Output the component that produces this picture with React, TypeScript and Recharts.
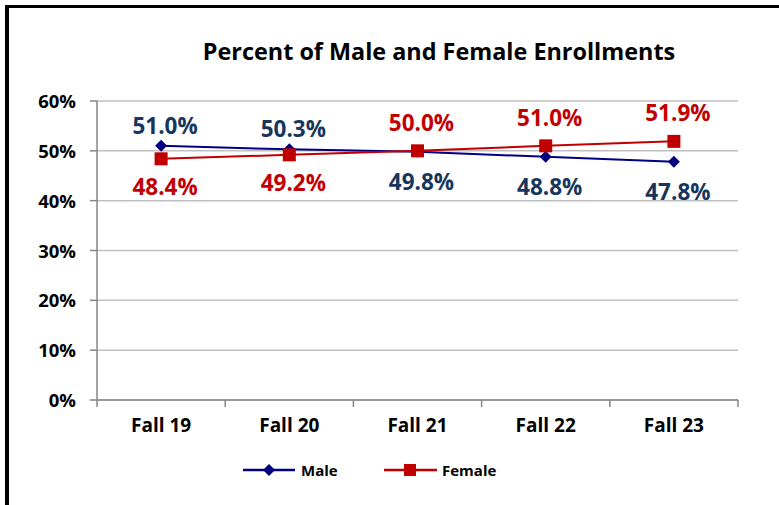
import React from "react";
import { LineChart, Line, XAxis, YAxis, CartesianGrid, LabelList, Customized } from "recharts";

const categories = ["Fall 19", "Fall 20", "Fall 21", "Fall 22", "Fall 23"];
const maleValues = [0.51, 0.503, 0.498, 0.488, 0.478];
const femaleValues = [0.484, 0.492, 0.5, 0.51, 0.519];
const yTicks = [0, 0.1, 0.2, 0.3, 0.4, 0.5, 0.6];

const data = categories.map((c, i) => ({ x: i + 0.5, name: c, male: maleValues[i], female: femaleValues[i] }));
const xTicks: number[] = [];
for (let i = 0; i <= categories.length * 2; i++) xTicks.push(i / 2);

const FONT = "'Open Sans', sans-serif";
const MALE_LINE = "#000080";
const MALE_TEXT = "#17365D";
const FEMALE = "#C00000";
const AXIS = "#868686";

const pct = (v: number) => (v * 100).toFixed(1) + "%";

const XTick = (props: any) => {
  const { x, y, payload } = props;
  const v = payload.value as number;
  if (Number.isInteger(v)) {
    return <line x1={x} x2={x} y1={y - 8} y2={y - 1} stroke={AXIS} strokeWidth={1.5} />;
  }
  const name = categories[Math.floor(v)];
  return (
    <text x={x} y={y + 24} textAnchor="middle" fontFamily={FONT} fontWeight="bold" fontSize={19} fill="#000">
      {name}
    </text>
  );
};

const YTick = (props: any) => {
  const { x, y, payload } = props;
  return (
    <text x={x - 12} y={y + 7} textAnchor="end" fontFamily={FONT} fontWeight="bold" fontSize={18.5} fill="#000">
      {Math.round(payload.value * 100) + "%"}
    </text>
  );
};

const makeLabel = (own: number[], other: number[], color: string, up: number, down: number) => (props: any) => {
  const { x, y, index } = props;
  const above = own[index] > other[index];
  return (
    <text
      x={x + 4}
      y={above ? y - up : y + down}
      textAnchor="middle"
      fontFamily={FONT}
      fontWeight="bold"
      fontSize={22.5}
      fill={color}
    >
      {pct(own[index])}
    </text>
  );
};

const Diamond = (props: any) => {
  const { cx, cy } = props;
  const r = 6;
  return <polygon points={`${cx},${cy - r} ${cx + r},${cy} ${cx},${cy + r} ${cx - r},${cy}`} fill={MALE_LINE} />;
};

const Square = (props: any) => {
  const { cx, cy } = props;
  const r = 6.5;
  return <rect x={cx - r} y={cy - r} width={2 * r} height={2 * r} fill={FEMALE} />;
};

const LegendAndTitle = () => (
  <g>
    <text x={439} y={60} textAnchor="middle" fontFamily={FONT} fontWeight="bold" fontSize={23.4} fill="#000">
      Percent of Male and Female Enrollments
    </text>
    <line x1={243} x2={295} y1={470} y2={470} stroke={MALE_LINE} strokeWidth={2.5} />
    <polygon points="269,464 275,470 269,476 263,470" fill={MALE_LINE} />
    <text x={301} y={476} fontFamily={FONT} fontWeight="bold" fontSize={15} fill="#000">Male</text>
    <line x1={384} x2={437} y1={470} y2={470} stroke={FEMALE} strokeWidth={2.5} />
    <rect x={404} y={464} width={12} height={12} fill={FEMALE} />
    <text x={442} y={476} fontFamily={FONT} fontWeight="bold" fontSize={15} fill="#000">Female</text>
  </g>
);

export default function App() {
  return (
    <div style={{ position: "absolute", left: 0, top: 0, width: 779, height: 505, background: "#fff" }}>
      <div style={{ position: "absolute", left: 5, top: 5, width: 774, height: 500, borderLeft: "4px solid #000", borderTop: "3px solid #000", boxSizing: "border-box" }} />
      <LineChart width={779} height={505} data={data} margin={{ top: 101, right: 41, bottom: 65, left: 0 }}>
        <CartesianGrid vertical={false} stroke="#BFBFBF" strokeWidth={1.5} />
        <XAxis
          type="number"
          dataKey="x"
          domain={[0, categories.length]}
          ticks={xTicks}
          interval={0}
          tick={<XTick />}
          tickLine={false}
          axisLine={{ stroke: AXIS, strokeWidth: 1.5 }}
          height={40}
        />
        <YAxis
          domain={[0, 0.6]}
          ticks={yTicks}
          interval={0}
          tick={<YTick />}
          tickSize={7}
          tickLine={{ stroke: AXIS, strokeWidth: 1.5 }}
          axisLine={{ stroke: AXIS, strokeWidth: 1.5 }}
          width={97}
        />
        <YAxis yAxisId="r" orientation="right" width={0} tick={false} tickLine={false} axisLine={{ stroke: "#A0A0A0", strokeWidth: 2 }} />
        <Line dataKey="male" stroke={MALE_LINE} strokeWidth={2} dot={<Diamond />} isAnimationActive={false}>
          <LabelList dataKey="male" content={makeLabel(maleValues, femaleValues, MALE_TEXT, 12, 38)} />
        </Line>
        <Line dataKey="female" stroke={FEMALE} strokeWidth={2} dot={<Square />} isAnimationActive={false}>
          <LabelList dataKey="female" content={makeLabel(femaleValues, maleValues, FEMALE, 20, 36)} />
        </Line>
        <Customized component={LegendAndTitle} />
      </LineChart>
    </div>
  );
}
